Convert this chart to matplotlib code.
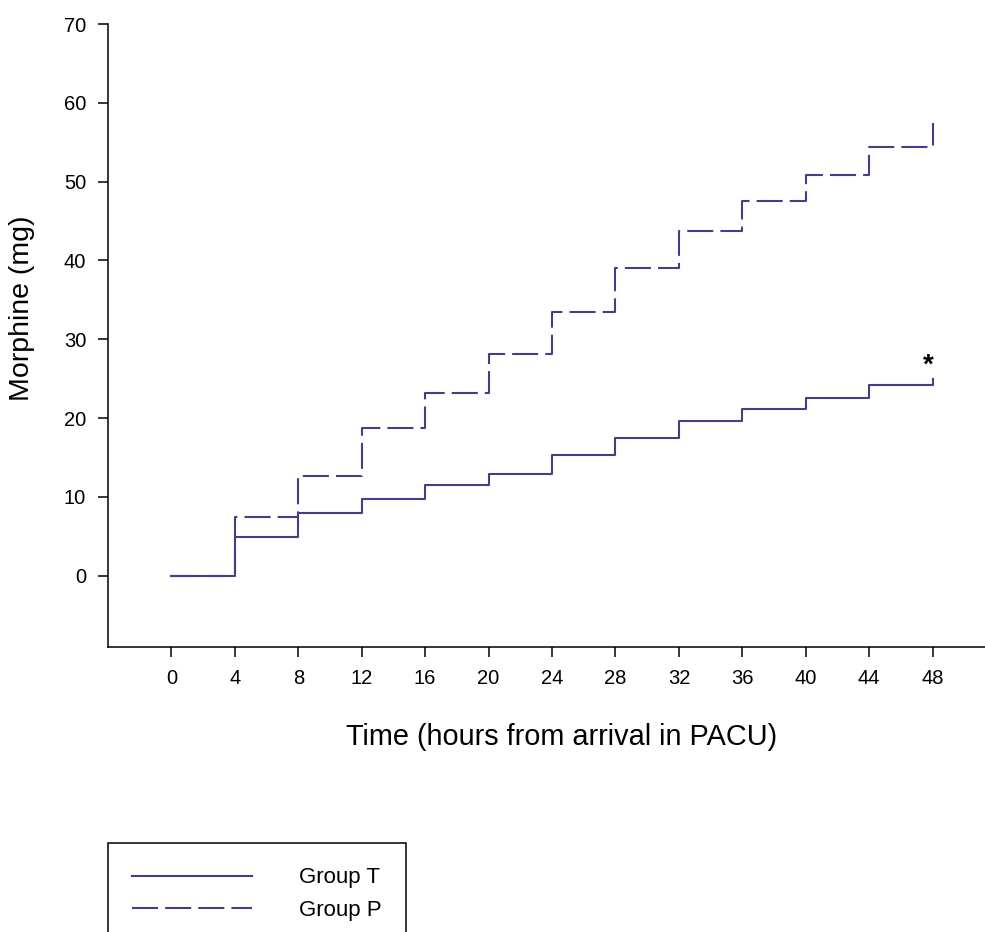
import numpy as np
import matplotlib
matplotlib.use("Agg")
import matplotlib.pyplot as plt

plt.rcParams["font.family"] = ["Liberation Sans", "DejaVu Sans"]

# cumulative morphine (mg) read at each 4 h mark
hours = [0, 4, 8, 12, 16, 20, 24, 28, 32, 36, 40, 44, 48]
group_t = [0, 4.9, 8.0, 9.8, 11.5, 12.9, 15.3, 17.5, 19.6, 21.2, 22.6, 24.2, 24.9]
group_p = [0, 7.5, 12.7, 18.7, 23.2, 28.1, 33.4, 39.1, 43.8, 47.6, 50.8, 54.4, 57.4]
yticks = [0, 10, 20, 30, 40, 50, 60, 70]

line_col = "#4b3a88"

fig = plt.figure(figsize=(9.85, 9.32), dpi=100)
ax = fig.add_axes([108 / 985, 1 - 646.7 / 932, 1 - 108 / 985, (646.7 - 24) / 932])

ax.step(hours, group_t, where="post", color=line_col, lw=1.5, label="Group T")
ax.step(hours, group_p, where="post", color=line_col, lw=1.5,
        linestyle=(0, (12.5, 3.4)), label="Group P")

# significance mark at 48 h
ax.text(47.7, 25.8, "*", ha="center", va="baseline", fontsize=20, fontweight="bold")

ax.set_xlim(-4, 51.3)
ax.set_ylim(-9, 70)
ax.set_xticks(hours)
ax.set_yticks(yticks)

for side in ["top", "right"]:
    ax.spines[side].set_visible(False)
for side in ["left", "bottom"]:
    ax.spines[side].set_linewidth(1.1)

ax.tick_params(axis="both", direction="out", length=7.2, width=1.1,
               labelsize=14.5, pad=8.5)

ax.set_xlabel("Time (hours from arrival in PACU)", fontsize=20.8)
ax.xaxis.label.set_va("center")
ax.xaxis.set_label_coords((562 - 108) / 877, -(737 - 646.7) / 622.7)
ax.set_ylabel("Morphine (mg)", fontsize=20.5)
ax.yaxis.label.set_va("center")
ax.yaxis.set_label_coords((22 - 108) / 877, 1 - (308 - 24) / 622.7)

leg = fig.legend(loc="upper left", bbox_to_anchor=(108 / 985, 1 - 843 / 932),
                 fontsize=16, handlelength=5.4, handletextpad=2.1,
                 borderpad=1.1, labelspacing=0.5, fancybox=False,
                 framealpha=1, edgecolor="black", borderaxespad=0)
leg.get_frame().set_linewidth(1.1)

fig.savefig("out.png", dpi=100)
